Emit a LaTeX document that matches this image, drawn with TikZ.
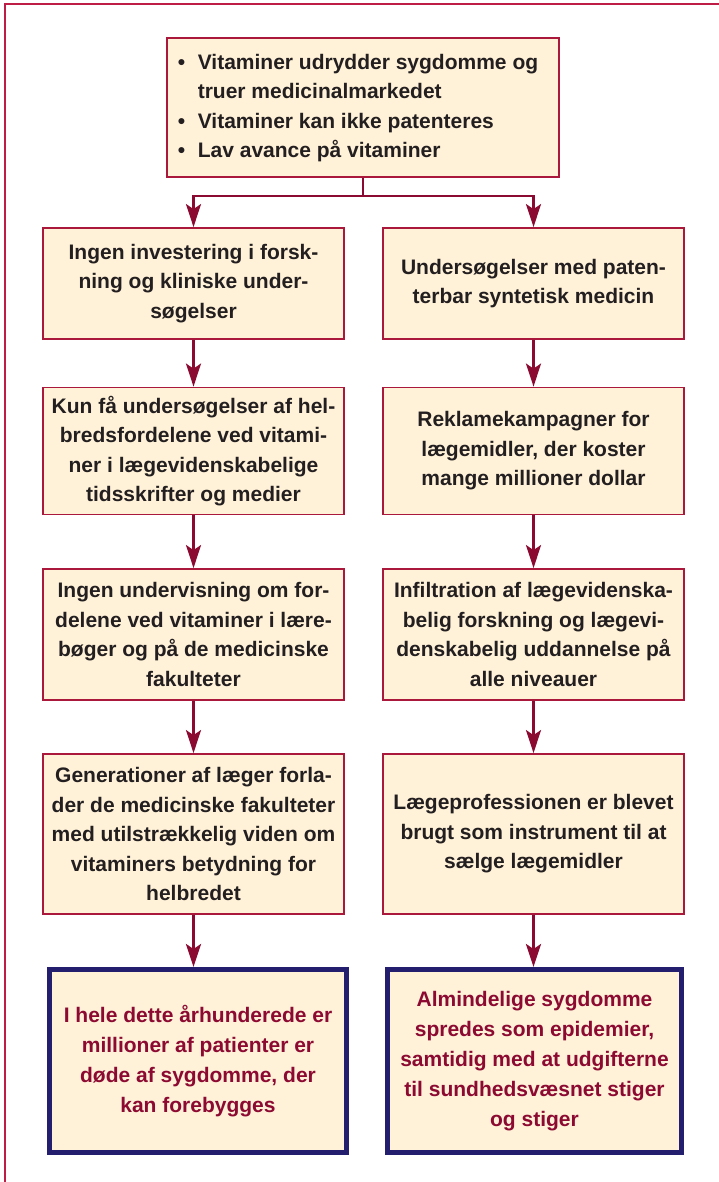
\documentclass[tikz,border=0pt]{standalone}
\usepackage{fontspec}
\setmainfont{Liberation Sans}
\usetikzlibrary{arrows.meta}
\definecolor{framered}{RGB}{190,30,70}
\definecolor{boxred}{RGB}{170,25,60}
\definecolor{arrowred}{RGB}{139,10,50}
\definecolor{cream}{RGB}{255,242,216}
\definecolor{navy}{RGB}{35,30,110}
\definecolor{txt}{RGB}{35,31,32}
\definecolor{redtxt}{RGB}{140,10,50}
\tikzset{
  px/.style={x=1pt,y=1pt},
  stepbox/.style={draw=boxred, fill=cream, line width=1.8pt, inner sep=0pt,
    align=center, text=txt, font=\fontsize{21pt}{29.5pt}\selectfont\bfseries},
  endbox/.style={draw=navy, fill=cream, line width=5pt, inner sep=0pt,
    align=center, text=redtxt, font=\fontsize{21pt}{30pt}\selectfont\bfseries},
  conn/.style={draw=arrowred, line width=2.7pt,
    -{Stealth[length=23pt,width=15pt,inset=5pt]}},
  connline/.style={draw=arrowred, line width=2.7pt}
}
\begin{document}
\begin{tikzpicture}[px]
\useasboundingbox (0,0) rectangle (719,-1182);
% outer frame (top and left edges visible)
\draw[framered, line width=2pt] (5,-1182) -- (5,-4.5) -- (719,-4.5);

\node[stepbox, minimum width=392pt, minimum height=139pt] (top) at (363,-107.5) {%
  \begin{tabular}{@{}l@{}l@{}}
  \makebox[20pt][l]{•} & Vitaminer udrydder sygdomme og\\
   & truer medicinalmarkedet\\
  \makebox[20pt][l]{•} & Vitaminer kan ikke patenteres\\
  \makebox[20pt][l]{•} & Lav avance på vitaminer
  \end{tabular}\hspace*{10pt}};

\node[stepbox, minimum width=301pt, minimum height=111pt] (L1) at (193.5,-283.5)
  {Ingen investering i forsk-\\ning og kliniske under-\\søgelser};
\node[stepbox, minimum width=301pt, minimum height=111pt] (R1) at (533.5,-283.5)
  {Undersøgelser med paten-\\terbar syntetisk medicin};

\node[stepbox, minimum width=301pt, minimum height=127pt] (L2) at (193.5,-451)
  {Kun få undersøgelser af hel-\\bredsfordelene ved vitami-\\ner i lægevidenskabelige\\tidsskrifter og medier};
\node[stepbox, minimum width=301pt, minimum height=127pt] (R2) at (533.5,-451)
  {Reklamekampagner for\\lægemidler, der koster\\mange millioner dollar};

\node[stepbox, minimum width=301pt, minimum height=131pt] (L3) at (193.5,-634.5)
  {Ingen undervisning om for-\\delene ved vitaminer i lære-\\bøger og på de medicinske\\fakulteter};
\node[stepbox, minimum width=301pt, minimum height=131pt] (R3) at (533.5,-634.5)
  {Infiltration af lægevidenska-\\belig forskning og lægevi-\\denskabelig uddannelse på\\alle niveauer};

\node[stepbox, minimum width=301pt, minimum height=160pt] (L4) at (193.5,-834)
  {Generationer af læger forla-\\der de medicinske fakulteter\\med utilstrækkelig viden om\\vitaminers betydning for\\helbredet};
\node[stepbox, minimum width=301pt, minimum height=160pt] (R4) at (533.5,-834)
  {Lægeprofessionen er blevet\\brugt som instrument til at\\sælge lægemidler};

\node[endbox, minimum width=297pt, minimum height=183pt] (L5) at (198,-1061)
  {I hele dette århunderede er\\millioner af patienter er\\døde af sygdomme, der\\kan forebygges};
\node[endbox, minimum width=294pt, minimum height=183pt] (R5) at (534.5,-1061)
  {Almindelige sygdomme\\spredes som epidemier,\\samtidig med at udgifterne\\til sundhedsvæsnet stiger\\og stiger};

% connectors
\coordinate (split) at (363,-196);
\draw[connline] (top.south) -- (split);
\draw[conn] (split) -| (L1.north);
\draw[conn] (split) -| (R1.north);
\draw[conn] (L1) -- (L2);
\draw[conn] (L2) -- (L3);
\draw[conn] (L3) -- (L4);
\draw[conn] (L4.south) -- (L4.south |- L5.north);
\draw[conn] (R1) -- (R2);
\draw[conn] (R2) -- (R3);
\draw[conn] (R3) -- (R4);
\draw[conn] (R4.south) -- (R4.south |- R5.north);
\end{tikzpicture}
\end{document}
